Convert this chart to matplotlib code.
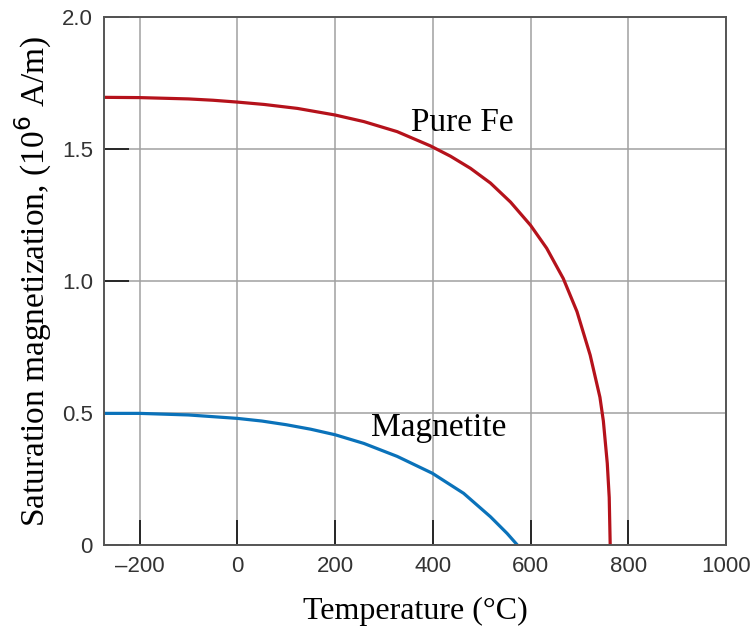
import matplotlib
matplotlib.use("Agg")
import matplotlib.pyplot as plt

# Pure Fe saturation magnetization (10^6 A/m) vs temperature (C)
fe_temp = [-273, -200, -100, -50, 0, 55, 123, 200, 259, 327, 395, 436, 477, 518, 559,
           600, 633, 667, 695, 722, 742, 749, 757, 761, 763]
fe_ms = [1.697, 1.696, 1.691, 1.686, 1.679, 1.670, 1.655, 1.630, 1.605, 1.567, 1.513, 1.474,
         1.428, 1.372, 1.300, 1.212, 1.125, 1.010, 0.885, 0.720, 0.560, 0.470, 0.310, 0.180, 0.0]

# Magnetite
mag_temp = [-273, -200, -100, 0, 50, 100, 150, 200, 259, 327, 399, 463, 518, 552, 573]
mag_ms = [0.499, 0.499, 0.493, 0.480, 0.470, 0.456, 0.439, 0.418, 0.385, 0.336, 0.272,
          0.196, 0.107, 0.044, 0.0]

xticks = [-200, 0, 200, 400, 600, 800, 1000]
xtick_labels = ["\u2013200", "0", "200", "400", "600", "800", "1000"]
yticks = [0, 0.5, 1.0, 1.5, 2.0]
ytick_labels = ["0", "0.5", "1.0", "1.5", "2.0"]

fig = plt.figure(figsize=(7.55, 6.33), dpi=100)
ax = fig.add_axes([0.1377, 0.139, 0.8239, 0.8335])

ax.plot(fe_temp, fe_ms, color="#B5121B", lw=2.3, solid_capstyle="butt", solid_joinstyle="round")
ax.plot(mag_temp, mag_ms, color="#0A72BA", lw=2.3, solid_capstyle="butt", solid_joinstyle="round")

ax.set_xlim(-273, 1000)
ax.set_ylim(0, 2.0)
ax.set_xticks(xticks)
ax.set_xticklabels(xtick_labels)
ax.set_yticks(yticks)
ax.set_yticklabels(ytick_labels)

ax.grid(True, color="#a0a0a0", lw=1.1)
ax.set_axisbelow(True)
ax.tick_params(direction="in", length=18, width=1.1, color="black",
               labelsize=16, labelcolor="#333333", pad=8)
for s in ax.spines.values():
    s.set_color("#555555")
    s.set_linewidth(1.4)

serif = ["Liberation Serif", "DejaVu Serif"]
for lab in ax.get_xticklabels() + ax.get_yticklabels():
    lab.set_family(["Liberation Sans", "DejaVu Sans"])

ax.set_xlabel("Temperature (\u00b0C)", family=serif, fontsize=23, labelpad=14)
ax.set_ylabel("Saturation magnetization, (10$^6$ A/m)", family=serif, fontsize=24, labelpad=6)

ax.text(460, 1.6, "Pure Fe", family=serif, fontsize=24, ha="center", va="center")
ax.text(413, 0.445, "Magnetite", family=serif, fontsize=24, ha="center", va="center")

plt.savefig("out.png", dpi=100)
